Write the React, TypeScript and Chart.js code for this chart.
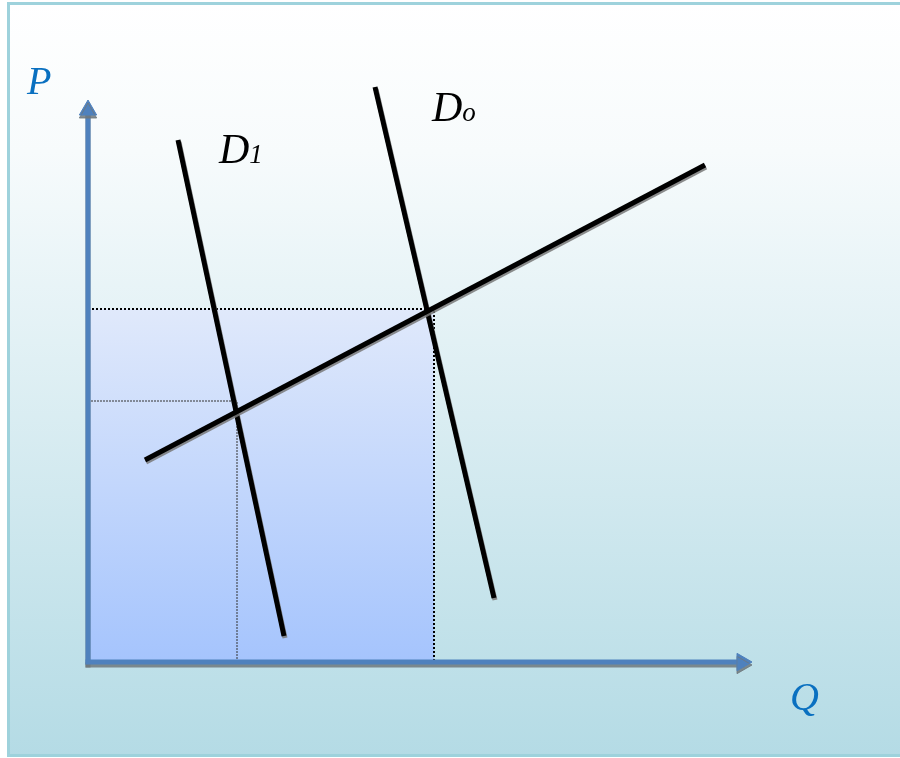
import React, { useEffect, useRef } from "react";
import { Chart, registerables } from "chart.js";

Chart.register(...registerables);

// Quantity (Q) and price (P) values, in chart units (origin at the axes corner)
const supplyQ = [5.7, 61.7];
const supplyP = [20.2, 49.7];
const demand0Q = [28.7, 40.6];
const demand0P = [57.5, 6.4];
const demand1Q = [9.0, 19.6];
const demand1P = [52.2, 2.6];
const equilibrium0 = [34.6, 35.3];
const equilibrium1 = [14.9, 26.1];
const axisQMax = [65.4];
const axisPMax = [55.2];
const axisTitles = ["P", "Q"];
const curveNames = ["D", "o", "D", "1"];

const pts = (qs: number[], ps: number[]) => qs.map((q, i) => ({ x: q, y: ps[i] }));

const shadowPlugin = {
  id: "lineShadow",
  beforeDatasetDraw(chart: any, args: any) {
    const ds = chart.data.datasets[args.index];
    if (!ds.shadow) return;
    const ctx = chart.ctx;
    ctx.save();
    ctx.shadowColor = ds.shadow.color;
    ctx.shadowOffsetX = ds.shadow.x;
    ctx.shadowOffsetY = ds.shadow.y;
    ctx.shadowBlur = 0;
  },
  afterDatasetDraw(chart: any, args: any) {
    const ds = chart.data.datasets[args.index];
    if (!ds.shadow) return;
    chart.ctx.restore();
  },
};

const backgroundPlugin = {
  id: "slideBackground",
  beforeDraw(chart: any) {
    const ctx = chart.ctx;
    const w = chart.width;
    const h = chart.height;
    ctx.save();
    ctx.fillStyle = "#ffffff";
    ctx.fillRect(0, 0, w, h);
    const g = ctx.createLinearGradient(0, 0, 0, h);
    g.addColorStop(0, "#ffffff");
    g.addColorStop(0.2, "#f7fbfc");
    g.addColorStop(1, "#b4dbe5");
    ctx.fillStyle = g;
    ctx.fillRect(8, 3, w, h - 6);
    ctx.strokeStyle = "#9ed2dc";
    ctx.lineWidth = 3;
    ctx.strokeRect(8.5, 3.5, w + 10, h - 6);
    ctx.restore();
  },
};

const labelPlugin = {
  id: "curveLabels",
  afterDatasetsDraw(chart: any) {
    const ctx = chart.ctx;
    const xs = chart.scales.x;
    const ys = chart.scales.y;
    ctx.save();
    ctx.textBaseline = "alphabetic";
    ctx.textAlign = "left";
    // axis titles
    ctx.fillStyle = "#0a70c0";
    ctx.font = "italic 40px 'Liberation Serif', serif";
    ctx.fillText(axisTitles[0], xs.getPixelForValue(-6.1), ys.getPixelForValue(56.8));
    ctx.fillText(axisTitles[1], xs.getPixelForValue(70.2), ys.getPixelForValue(-4.8));
    // curve names
    ctx.fillStyle = "#000000";
    const drawName = (main: string, sub: string, q: number, p: number) => {
      const x = xs.getPixelForValue(q);
      const y = ys.getPixelForValue(p);
      ctx.font = "italic 42px 'Liberation Serif', serif";
      ctx.fillText(main, x, y);
      const wMain = ctx.measureText(main).width;
      ctx.font = "italic 27px 'Liberation Serif', serif";
      ctx.fillText(sub, x + wMain, y);
    };
    drawName(curveNames[0], curveNames[1], 34.4, 54.1);
    drawName(curveNames[2], curveNames[3], 13.1, 49.9);
    ctx.restore();
  },
};

export default function App() {
  const ref = useRef<HTMLCanvasElement | null>(null);

  useEffect(() => {
    if (!ref.current) return;
    const lineShadow = { color: "rgba(120,120,120,0.85)", x: 1, y: 2 };
    const axisShadow = { color: "rgba(110,120,125,0.85)", x: 0, y: 3 };

    const chart = new Chart(ref.current, {
      type: "line",
      data: {
        datasets: [
          {
            label: "S",
            data: pts(supplyQ, supplyP),
            borderColor: "#000000",
            borderWidth: 5,
            pointRadius: 0,
            order: 1,
            shadow: lineShadow,
          } as any,
          {
            label: "D0",
            data: pts(demand0Q, demand0P),
            borderColor: "#000000",
            borderWidth: 5,
            pointRadius: 0,
            order: 2,
            shadow: lineShadow,
          } as any,
          {
            label: "D1",
            data: pts(demand1Q, demand1P),
            borderColor: "#000000",
            borderWidth: 5,
            pointRadius: 0,
            order: 3,
            shadow: lineShadow,
          } as any,
          {
            label: "P axis",
            data: [
              { x: 0, y: 0 },
              { x: 0, y: axisPMax[0] },
            ],
            borderColor: "#4f81bd",
            borderWidth: 5,
            borderCapStyle: "square",
            pointStyle: "triangle",
            pointRadius: [0, 10],
            pointRotation: 0,
            pointBackgroundColor: "#4f81bd",
            pointBorderColor: "#4f81bd",
            pointBorderWidth: 1,
            order: 5,
            shadow: axisShadow,
          } as any,
          {
            label: "Q axis",
            data: [
              { x: 0, y: 0 },
              { x: axisQMax[0], y: 0 },
            ],
            borderColor: "#4f81bd",
            borderWidth: 5,
            borderCapStyle: "square",
            pointStyle: "triangle",
            pointRadius: [0, 10],
            pointRotation: 90,
            pointBackgroundColor: "#4f81bd",
            pointBorderColor: "#4f81bd",
            pointBorderWidth: 1,
            order: 4,
            shadow: axisShadow,
          } as any,
          {
            label: "E0 guide",
            data: [
              { x: 0, y: equilibrium0[1] },
              { x: equilibrium0[0], y: equilibrium0[1] },
              { x: equilibrium0[0], y: 0 },
            ],
            borderColor: "#000000",
            borderWidth: 2,
            borderDash: [2, 2],
            pointRadius: 0,
            order: 7,
          } as any,
          {
            label: "E1 guide",
            data: [
              { x: 0, y: equilibrium1[1] },
              { x: equilibrium1[0], y: equilibrium1[1] },
              { x: equilibrium1[0], y: 0 },
            ],
            borderColor: "#333333",
            borderWidth: 1,
            borderDash: [2, 1],
            pointRadius: 0,
            order: 8,
          } as any,
          {
            label: "Revenue",
            data: [
              { x: 0, y: equilibrium0[1] },
              { x: equilibrium0[0], y: equilibrium0[1] },
            ],
            borderWidth: 0,
            pointRadius: 0,
            fill: "origin",
            backgroundColor: (c: any) => {
              const chartObj = c.chart;
              if (!chartObj.chartArea) return "#c6d8fb";
              const ys = chartObj.scales.y;
              const g = chartObj.ctx.createLinearGradient(
                0,
                ys.getPixelForValue(equilibrium0[1]),
                0,
                ys.getPixelForValue(0)
              );
              g.addColorStop(0, "#e0e9fb");
              g.addColorStop(1, "#a5c4fd");
              return g;
            },
            order: 9,
          } as any,
        ],
      },
      options: {
        responsive: false,
        animation: false,
        events: [],
        layout: { padding: 0, autoPadding: false },
        plugins: {
          legend: { display: false },
          tooltip: { enabled: false },
        },
        scales: {
          x: { type: "linear", display: false, min: -8.8, max: 81.2 },
          y: { type: "linear", display: false, min: -9.6, max: 66.2 },
        },
      },
      plugins: [backgroundPlugin, shadowPlugin, labelPlugin],
    });
    return () => chart.destroy();
  }, []);

  return (
    <div style={{ position: "absolute", left: 0, top: 0, width: 900, height: 758 }}>
      <canvas ref={ref} width={900} height={758} style={{ display: "block" }} />
    </div>
  );
}
